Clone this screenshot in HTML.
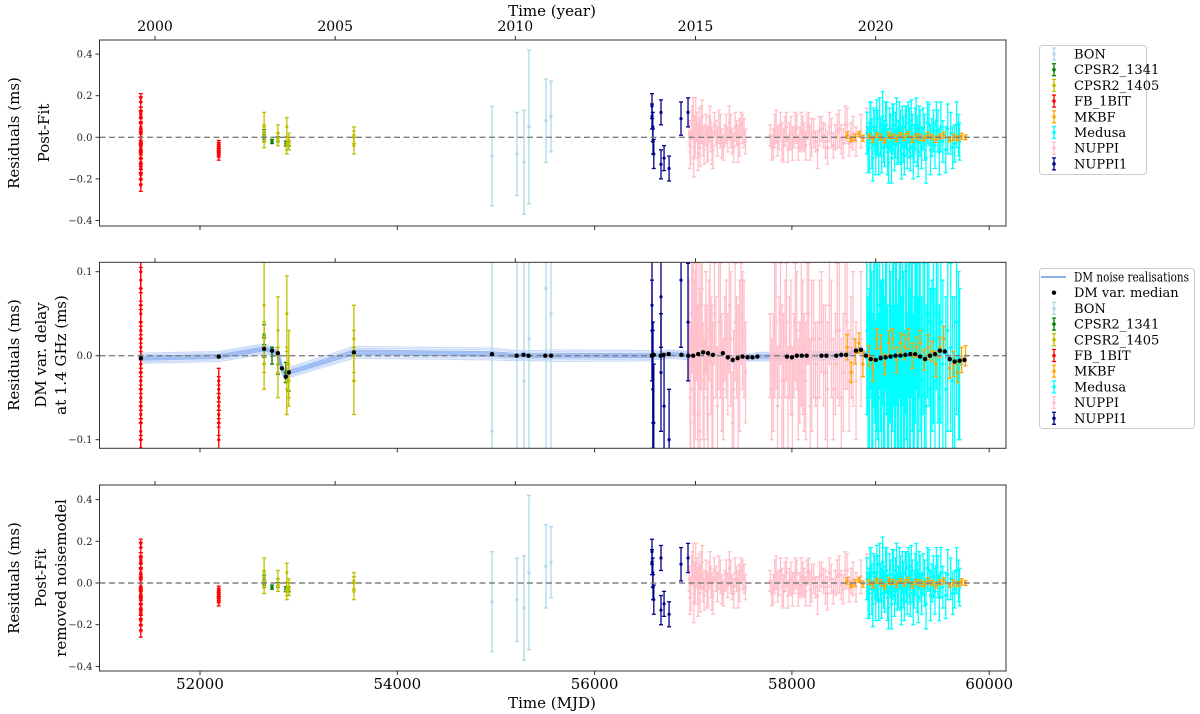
<!DOCTYPE html>
<html><head><meta charset="utf-8"><style>
body{margin:0;background:#fff}
svg{display:block;font-family:"DejaVu Serif","Liberation Serif",serif}
</style></head><body>
<svg id="chart" width="1200" height="714" viewBox="0 0 1200 714" xmlns="http://www.w3.org/2000/svg">
<defs>
<clipPath id="c0"><rect x="99.5" y="40" width="906.5" height="186"/></clipPath>
<clipPath id="c1"><rect x="99.5" y="262.3" width="906.5" height="186"/></clipPath>
<clipPath id="c2"><rect x="99.5" y="485" width="906.5" height="186"/></clipPath>
</defs>
<text x="552" y="16" font-size="15" text-anchor="middle">Time (year)</text>
<text x="552" y="708" font-size="15" text-anchor="middle">Time (MJD)</text>
<g font-size="15" text-anchor="middle">
<text transform="translate(19,133) rotate(-90)">Residuals (ms)</text>
<text transform="translate(49,133) rotate(-90)">Post-Fit</text>
</g>
<g font-size="15" text-anchor="middle">
<text transform="translate(19,355) rotate(-90)">Residuals (ms)</text>
<text transform="translate(46,355) rotate(-90)">DM var. delay</text>
<text transform="translate(66,355) rotate(-90)">at 1.4 GHz (ms)</text>
</g>
<g font-size="15" text-anchor="middle">
<text transform="translate(19,578) rotate(-90)">Residuals (ms)</text>
<text transform="translate(46,578) rotate(-90)">Post-Fit</text>
<text transform="translate(66,578) rotate(-90)">removed noisemodel</text>
</g>
<g id="plots"></g>
<g id="legends"></g>
</svg>
<script>
// ---------- data (MJD, residual ms, error ms) ----------
const fbMjd=[51400,51400,51400,51400,51400,51400,51400,51400,51400,51400,51400,51400,51400,51400,51400,51400,51400,51400,51400,51400,51400,52190,52190,52190,52190,52190,52190,52190];
const fbVal=[0.19,0.17,0.12,0.11,0.1,0.05,0.04,0.02,0.0,-0.02,-0.04,-0.05,-0.06,-0.08,-0.1,-0.12,-0.13,-0.15,-0.18,-0.2,-0.23,-0.03,-0.04,-0.05,-0.06,-0.07,-0.08,-0.09];
const fbErr=[0.02,0.025,0.025,0.02,0.025,0.02,0.025,0.02,0.025,0.02,0.025,0.02,0.025,0.02,0.025,0.02,0.025,0.02,0.025,0.025,0.03,0.015,0.015,0.015,0.015,0.015,0.015,0.02];
const fbVal2=[0.1,0.09,0.08,0.06,0.05,0.04,0.03,0.02,0.01,0.0,-0.01,-0.02,-0.03,-0.04,-0.05,-0.06,-0.07,-0.08,-0.09,-0.1,-0.11,-0.03,-0.04,-0.05,-0.06,-0.07,-0.08,-0.1];

const c05Mjd=[52650,52650,52650,52790,52790,52880,52880,52880,52900,52900,53560,53560,53560];
const c05Val=[0.05,0.03,-0.02,0.02,-0.01,0.05,-0.04,-0.03,-0.02,-0.03,0.01,0.0,-0.04];
const c05Err=[0.07,0.03,0.03,0.04,0.03,0.045,0.04,0.03,0.04,0.03,0.04,0.03,0.04];
const c05Val2=[0.06,0.01,-0.01,0.03,-0.02,0.05,-0.03,-0.04,-0.01,-0.03,0.02,0.0,-0.03];

const c41Mjd=[52650,52650,52730,52790,52870,52900];
const c41Val=[0.025,-0.01,-0.02,-0.01,-0.03,-0.03];
const c41Err=[0.012,0.012,0.01,0.012,0.012,0.012];
const c41Val2=[0.025,0.01,0.0,-0.01,-0.02,-0.03];

const bonMjd=[54960,55213,55284,55335,55507,55558];
const bonVal=[-0.09,-0.08,-0.12,0.05,0.08,0.1];
const bonErr=[0.24,0.2,0.25,0.37,0.2,0.17];
const bonVal2=[-0.09,0.0,-0.03,0.02,0.08,0.05];

const np1Mjd=[56582,56582,56590,56592,56600,56673,56673,56704,56755,56876,56947];
const np1Val=[0.15,0.1,0.05,-0.02,-0.08,0.12,-0.13,-0.1,-0.15,0.09,0.12];
const np1Err=[0.06,0.06,0.07,0.06,0.07,0.06,0.07,0.06,0.06,0.08,0.07];
const np1Val2=[0.03,0.06,-0.04,-0.02,-0.08,0.07,-0.02,-0.06,-0.1,0.09,0.04];

const npMjd=[56960,56975,56990,57000,57010,57020,57035,57050,57065,57080,57100,57120,57140,57160,57180,57200,57230,57260,57290,57320,57350,57380,57410,57440,57470,57500,57530,57780,57810,57840,57870,57900,57930,57960,57990,58020,58050,58080,58110,58140,58170,58200,58240,58280,58320,58360,58400,58440,58480,58520,58560,58600,58650,58700,58760,58850,58950,59050,59150,59250];
const npVal=[0.02,-0.05,0.08,0.1,-0.03,0.0,0.05,-0.08,0.03,0.06,-0.02,0.01,-0.04,0.04,0.0,-0.06,0.02,0.05,-0.03,0.01,-0.01,0.03,-0.05,0.02,0.0,0.04,-0.02,0.01,-0.03,0.05,0.0,-0.02,0.03,-0.06,0.02,0.0,0.04,-0.01,0.02,-0.04,0.06,0.0,-0.02,0.03,0.01,-0.05,0.02,0.0,0.04,-0.03,0.06,0.01,-0.02,0.03,0.05,-0.03,0.02,0.0,0.04,-0.02];
const npErr=[0.06,0.08,0.07,0.09,0.06,0.1,0.07,0.08,0.06,0.09,0.07,0.05,0.08,0.06,0.07,0.09,0.06,0.08,0.07,0.05,0.06,0.08,0.07,0.06,0.09,0.07,0.06,0.05,0.07,0.08,0.06,0.09,0.07,0.06,0.08,0.05,0.07,0.06,0.08,0.07,0.06,0.09,0.05,0.07,0.06,0.08,0.07,0.06,0.09,0.07,0.08,0.06,0.07,0.08,0.09,0.07,0.06,0.08,0.07,0.06];
const npVal2=[0.03,-0.04,0.06,0.02,-0.05,0.0,0.04,-0.07,0.02,0.05,-0.03,0.01,-0.02,0.03,0.0,-0.05,0.01,0.04,-0.02,0.02,-0.01,0.02,-0.04,0.01,0.0,0.03,-0.02,0.0,-0.02,0.04,0.01,-0.03,0.02,-0.05,0.01,0.0,0.03,-0.02,0.01,-0.03,0.05,0.0,-0.01,0.02,0.0,-0.04,0.02,-0.01,0.03,-0.02,0.04,0.01,-0.03,0.02,0.04,-0.02,0.01,0.0,0.03,-0.01];
const npMjdB=[56968,56985,57005,57015,57025,57045,57058,57070,57090,57110,57130,57150,57170,57190,57215,57245,57275,57305,57335,57365,57395,57425,57455,57485,57515,57795,57825,57855,57885,57915,57945,57975,58005,58035,58065,58095,58125,58155,58185,58220,58260,58300,58340,58380,58420,58460,58500,58540,58580,58620];
const npValB=[-0.07,0.06,-0.1,0.04,0.09,-0.02,0.07,-0.05,0.1,-0.06,0.05,-0.03,0.08,-0.04,0.06,-0.02,0.03,-0.05,0.04,0.07,-0.02,0.05,-0.03,0.06,0.02,-0.05,0.03,-0.02,0.06,-0.04,0.05,0.01,-0.03,0.05,-0.05,0.03,0.0,0.05,-0.03,0.02,-0.06,0.04,-0.02,0.05,-0.04,0.03,-0.01,0.06,-0.03,0.02];
const npErrB=[0.08,0.07,0.09,0.06,0.1,0.08,0.07,0.09,0.08,0.07,0.06,0.08,0.07,0.09,0.06,0.07,0.08,0.06,0.07,0.08,0.06,0.07,0.09,0.06,0.07,0.06,0.08,0.07,0.06,0.08,0.07,0.06,0.08,0.07,0.06,0.09,0.07,0.06,0.08,0.07,0.09,0.06,0.08,0.07,0.06,0.08,0.07,0.09,0.06,0.08];
const npValB2=[-0.05,0.05,-0.08,0.03,0.07,-0.02,0.06,-0.09,0.08,-0.05,0.04,-0.07,0.06,-0.03,0.05,-0.06,0.03,-0.04,0.02,0.06,-0.08,0.04,-0.03,0.05,0.02,-0.04,0.03,-0.06,0.05,-0.03,0.04,0.01,-0.07,0.04,-0.04,0.03,-0.02,0.05,-0.06,0.02,-0.05,0.04,-0.02,0.06,-0.04,0.03,-0.05,0.05,-0.03,0.02];

const medMjd=[58760,58785,58800,58820,58840,58860,58880,58900,58920,58940,58960,58980,59000,59020,59040,59060,59080,59100,59120,59140,59160,59180,59200,59220,59240,59260,59280,59300,59330,59360,59390,59420,59450,59480,59510,59560,59610,59650,59690];
const medVal=[0.02,-0.05,0.08,-0.1,0.03,0.05,-0.08,0.0,0.1,-0.04,0.06,-0.12,0.02,0.04,-0.06,0.08,-0.02,0.0,0.05,-0.09,0.03,0.07,-0.05,0.01,-0.03,0.09,-0.07,0.02,0.04,-0.1,0.06,0.0,-0.04,0.03,0.05,-0.06,0.02,-0.03,0.01];
const medErr=[0.1,0.12,0.09,0.11,0.1,0.13,0.1,0.09,0.12,0.1,0.11,0.1,0.09,0.12,0.1,0.11,0.1,0.13,0.1,0.09,0.12,0.1,0.11,0.1,0.09,0.1,0.12,0.11,0.1,0.12,0.1,0.09,0.11,0.1,0.12,0.11,0.1,0.09,0.1];
const medVal2=[0.03,-0.04,0.05,-0.06,0.02,0.04,-0.05,0.0,0.06,-0.03,0.04,-0.07,0.01,0.03,-0.04,0.05,-0.01,0.0,0.04,-0.06,0.02,0.05,-0.03,0.01,-0.02,0.06,-0.05,0.02,0.03,-0.06,0.04,0.0,-0.03,0.02,0.04,-0.04,0.01,-0.02,0.0];
const medMjdB=[58772,58792,58810,58830,58850,58870,58890,58910,58930,58950,58970,58990,59010,59030,59050,59070,59090,59110,59130,59150,59170,59190,59210,59230,59250,59270,59290,59315,59345,59375,59405,59435,59465,59495,59530,59580,59630,59670,59700];
const medValB=[-0.06,0.07,-0.03,0.05,-0.08,0.02,0.09,-0.05,-0.02,0.08,-0.07,0.04,-0.1,0.06,0.01,-0.04,0.07,-0.08,-0.01,0.05,-0.06,0.02,0.08,-0.09,0.04,-0.02,0.06,-0.05,0.0,0.07,-0.06,0.03,0.08,-0.07,-0.02,0.04,-0.05,0.06,-0.02];
const medErrB=[0.11,0.1,0.12,0.09,0.1,0.11,0.1,0.12,0.1,0.09,0.11,0.1,0.12,0.1,0.11,0.09,0.1,0.12,0.11,0.1,0.09,0.12,0.1,0.11,0.1,0.12,0.09,0.1,0.11,0.1,0.12,0.1,0.09,0.11,0.1,0.12,0.1,0.11,0.09];
const medValB2=[-0.04,0.05,-0.02,0.03,-0.06,0.01,0.06,-0.03,-0.01,0.05,-0.05,0.02,-0.06,0.04,0.0,-0.03,0.05,-0.05,-0.01,0.03,-0.04,0.01,0.05,-0.06,0.02,-0.01,0.04,-0.03,0.0,0.05,-0.04,0.02,0.05,-0.05,-0.01,0.03,-0.03,0.04,-0.01];

const mkMjd=[58560,58600,58640,58680,58720,58780,58820,58860,58900,58940,58980,59020,59060,59100,59140,59180,59220,59260,59300,59340,59380,59420,59460,59500,59540,59600,59640,59680,59720,59760];
const mkVal=[0.01,-0.01,0.0,0.015,-0.005,0.005,-0.01,0.01,0.0,-0.015,0.01,0.005,-0.005,0.01,0.0,0.015,-0.01,0.005,0.0,-0.005,0.01,0.0,-0.01,0.005,0.01,-0.01,0.0,-0.005,0.005,0.0];
const mkErr=[0.015,0.012,0.015,0.012,0.015,0.012,0.015,0.012,0.015,0.012,0.015,0.012,0.015,0.012,0.015,0.012,0.015,0.012,0.015,0.012,0.015,0.012,0.015,0.012,0.015,0.012,0.015,0.012,0.015,0.012];
const mkVal2=[0.01,-0.02,0.005,0.015,-0.01,0.0,-0.015,0.02,0.01,-0.01,0.015,0.02,-0.005,0.015,0.01,0.02,0.0,0.01,0.015,-0.005,0.01,0.005,-0.01,0.01,0.02,-0.015,-0.01,-0.02,-0.005,0.0];

// DM variation median (ms) and spread of realisations
const dmMjd=[51400,52190,52650,52730,52790,52830,52870,52900,53560,54960,55210,55280,55330,55500,55560,56580,56600,56670,56700,56750,56880,56950,57000,57050,57100,57150,57200,57300,57350,57400,57450,57500,57550,57600,57650,57950,58000,58050,58100,58150,58300,58350,58450,58500,58550,58650,58700,58750,58800,58850,58900,58950,59000,59050,59100,59150,59200,59250,59300,59350,59400,59450,59500,59550,59600,59650,59700,59750];
const dmVal=[-0.003,-0.001,0.008,0.006,0.003,-0.015,-0.025,-0.02,0.004,0.002,0.0,0.001,0.0,0.0,0.0,0.0,0.001,0.0,0.001,0.002,0.001,0.0,0.0,0.002,0.004,0.003,0.001,0.003,-0.002,-0.005,-0.003,-0.001,-0.002,-0.002,-0.001,-0.001,-0.002,0.0,0.0,0.0,0.0,0.0,0.0,0.001,0.001,0.006,0.007,0.0,-0.004,-0.005,-0.003,-0.002,-0.001,0.0,0.0,0.001,0.002,0.002,-0.001,-0.004,0.0,0.002,0.006,0.005,-0.004,-0.007,-0.006,-0.005];
const dmSpread=[0.006,0.006,0.006,0.005,0.005,0.006,0.006,0.006,0.007,0.007,0.006,0.006,0.006,0.006,0.007,0.006,0.005,0.005,0.005,0.005,0.005,0.005,0.004,0.004,0.004,0.004,0.004,0.004,0.004,0.004,0.004,0.004,0.004,0.004,0.005,0.005,0.004,0.004,0.004,0.005,0.005,0.005,0.005,0.004,0.004,0.004,0.004,0.004,0.004,0.004,0.004,0.004,0.004,0.004,0.004,0.004,0.004,0.004,0.004,0.004,0.004,0.004,0.004,0.004,0.004,0.005,0.005,0.005];
const realFrac=[-1,-0.7,-0.4,-0.15,0.15,0.4,0.7,1];

const mjdTicks=[52000,54000,56000,58000,60000];
const yearTicks=[2000,2005,2010,2015,2020];

// ---------- axes ----------
const X0=99.5,X1=1006;
function X(m){return 200+(m-52000)*0.09865;}
function yearToMjd(y){return 51544+(y-2000)*365.25;}
const panels=[
 {top:40,bot:226,zero:137.3,k:208,ticks:[-0.4,-0.2,0,0.2,0.4],labels:["\u22120.4","\u22120.2","0.0","0.2","0.4"],clip:"c0"},
 {top:262.3,bot:448.3,zero:355.7,k:840,ticks:[-0.1,0,0.1],labels:["\u22120.1","0.0","0.1"],clip:"c1"},
 {top:485,bot:671,zero:583,k:208.5,ticks:[-0.4,-0.2,0,0.2,0.4],labels:["\u22120.4","\u22120.2","0.0","0.2","0.4"],clip:"c2"}
];
const NS="http://www.w3.org/2000/svg";
function mk(tag,attrs,parent){const e=document.createElementNS(NS,tag);for(const k in attrs)e.setAttribute(k,attrs[k]);parent.appendChild(e);return e;}
const plots=document.getElementById('plots');

const colors={BON:"#add8e6",C41:"#008000",C05:"#bfbf00",FB:"#ff0000",MK:"#ffa500",MED:"#00ffff",NP:"#ffc0cb",NP1:"#00008b"};

function drawSeries(g,p,name,color,mj,vals,errs){
  const sg=mk('g',{},g);
  
  
  const Y=v=>p.zero-v*p.k;
  for(let i=0;i<mj.length;i++){
    const x=X(mj[i]),y1=Y(vals[i]+errs[i]),y2=Y(vals[i]-errs[i]),yc=Y(vals[i]);
    const b=mk('g',{stroke:color,'stroke-width':1.3},sg);
    
    
    mk('line',{x1:x,x2:x,y1:y1,y2:y2},b);
    mk('line',{x1:x-2,x2:x+2,y1:y1,y2:y1},b);
    mk('line',{x1:x-2,x2:x+2,y1:y2,y2:y2},b);
    mk('circle',{cx:x,cy:yc,r:1.6,fill:color,stroke:'none'},b);
  }
}

panels.forEach((p,pi)=>{
  const g=mk('g',{},plots);
  
  
  const Y=v=>p.zero-v*p.k;
  p.ticks.forEach((t,i)=>{
    const y=Y(t);
    mk('line',{x1:X0-4,x2:X0,y1:y,y2:y,stroke:'#333','stroke-width':1},g);
    const tx=mk('text',{x:X0-7,y:y+3.5,'font-size':10,'text-anchor':'end',fill:'#222'},g);
    tx.textContent=p.labels[i];
    
    
  });
  mjdTicks.forEach(t=>{
    const x=X(t);
    mk('line',{x1:x,x2:x,y1:p.bot,y2:p.bot+4,stroke:'#333','stroke-width':1},g);
    if(pi===2){
      const tx=mk('text',{x:x,y:p.bot+18,'font-size':15,'text-anchor':'middle'},g);
      tx.textContent=t;
      
      
    }
  });
  yearTicks.forEach(t=>{
    const x=X(yearToMjd(t));
    mk('line',{x1:x,x2:x,y1:p.top-4,y2:p.top,stroke:'#333','stroke-width':1},g);
    if(pi===0){
      const tx=mk('text',{x:x,y:p.top-9,'font-size':14,'text-anchor':'middle'},g);
      tx.textContent=t;
      
      
    }
  });
  const cg=mk('g',{'clip-path':'url(#'+p.clip+')'},g);
  if(pi===1){
    const rg=mk('g',{fill:'none',stroke:'#6495ed','stroke-opacity':0.35,'stroke-width':1.2},cg);
    
    
    realFrac.forEach(f=>{
      const pts=dmMjd.map((m,i)=>X(m)+','+Y(dmVal[i]+f*dmSpread[i])).join(' ');
      mk('polyline',{points:pts},rg);
    });
    const band=dmMjd.map((m,i)=>X(m)+','+Y(dmVal[i]+0.5*dmSpread[i])).concat(dmMjd.slice().reverse().map((m,j)=>{const i=dmMjd.length-1-j;return X(m)+','+Y(dmVal[i]-0.5*dmSpread[i]);})).join(' ');
    mk('polygon',{points:band,fill:'#6495ed','fill-opacity':0.45,stroke:'none'},rg);
  }
  const two=pi===1;
  drawSeries(cg,p,'bon-series',colors.BON,bonMjd,two?bonVal2:bonVal,bonErr);
  drawSeries(cg,p,'cpsr2-1341-series',colors.C41,c41Mjd,two?c41Val2:c41Val,c41Err);
  drawSeries(cg,p,'cpsr2-1405-series',colors.C05,c05Mjd,two?c05Val2:c05Val,c05Err);
  drawSeries(cg,p,'fb-1bit-series',colors.FB,fbMjd,two?fbVal2:fbVal,fbErr);
  drawSeries(cg,p,'nuppi-series',colors.NP,npMjd,two?npVal2:npVal,npErr);
  drawSeries(cg,p,'nuppi-series-b',colors.NP,npMjdB,two?npValB2:npValB,npErrB);
  drawSeries(cg,p,'medusa-series',colors.MED,medMjd,two?medVal2:medVal,medErr);
  drawSeries(cg,p,'medusa-series-b',colors.MED,medMjdB,two?medValB2:medValB,medErrB);
  drawSeries(cg,p,'mkbf-series',colors.MK,mkMjd,two?mkVal2:mkVal,mkErr);
  drawSeries(cg,p,'nuppi1-series',colors.NP1,np1Mjd,two?np1Val2:np1Val,np1Err);
  mk('line',{x1:X0,x2:X1,y1:Y(0),y2:Y(0),stroke:'#808080','stroke-width':1.4,'stroke-dasharray':'6,3.5'},cg);
  if(pi===1){
    const dg=mk('g',{fill:'#000'},cg);
    
    
    dmMjd.forEach((m,i)=>{
      const c=mk('circle',{cx:X(m),cy:Y(dmVal[i]),r:2.2},dg);
      
      
    });
  }
  mk('rect',{x:X0,y:p.top,width:X1-X0,height:p.bot-p.top,fill:'none',stroke:'#333','stroke-width':1},g);
});

// legends
const legends=document.getElementById('legends');
const legNames=["BON","CPSR2_1341","CPSR2_1405","FB_1BIT","MKBF","Medusa","NUPPI","NUPPI1"];
const legColors=[colors.BON,colors.C41,colors.C05,colors.FB,colors.MK,colors.MED,colors.NP,colors.NP1];
function legend(x,y,w,h,firstY,extra){
  const g=mk('g',{},legends);
  
  
  mk('rect',{x:x,y:y,width:w,height:h,rx:3,fill:'#fff',stroke:'#ccc','stroke-width':1},g);
  let yy=firstY;
  const entries=[];
  if(extra){entries.push(['DM noise realisations','line']);entries.push(['DM var. median','dot']);}
  legNames.forEach((n,i)=>entries.push([n,legColors[i]]));
  entries.forEach(e=>{
    const eg=mk('g',{},g);
    
    
    const mx=1054;
    if(e[1]==='line'){mk('line',{x1:1041,x2:1066,y1:yy,y2:yy,stroke:'#6495ed','stroke-width':1.5},eg);}
    else if(e[1]==='dot'){mk('circle',{cx:mx,cy:yy,r:2.2,fill:'#000'},eg);}
    else{
      mk('line',{x1:mx,x2:mx,y1:yy-6,y2:yy+6,stroke:e[1],'stroke-width':1.3},eg);
      mk('line',{x1:mx-2,x2:mx+2,y1:yy-6,y2:yy-6,stroke:e[1],'stroke-width':1.3},eg);
      mk('line',{x1:mx-2,x2:mx+2,y1:yy+6,y2:yy+6,stroke:e[1],'stroke-width':1.3},eg);
      mk('circle',{cx:mx,cy:yy,r:1.8,fill:e[1]},eg);
    }
    const t=mk('text',{x:1074,y:yy+4.5,'font-size':13},eg);
    if(e[1]==='line'){t.setAttribute('textLength','115');t.setAttribute('lengthAdjust','spacingAndGlyphs');}
    t.textContent=e[0];
    yy+=15.7;
  });
}
legend(1039.5,45.5,107,129,54,false);
legend(1039.5,268.5,155,160,277,true);
</script>
</body></html>
